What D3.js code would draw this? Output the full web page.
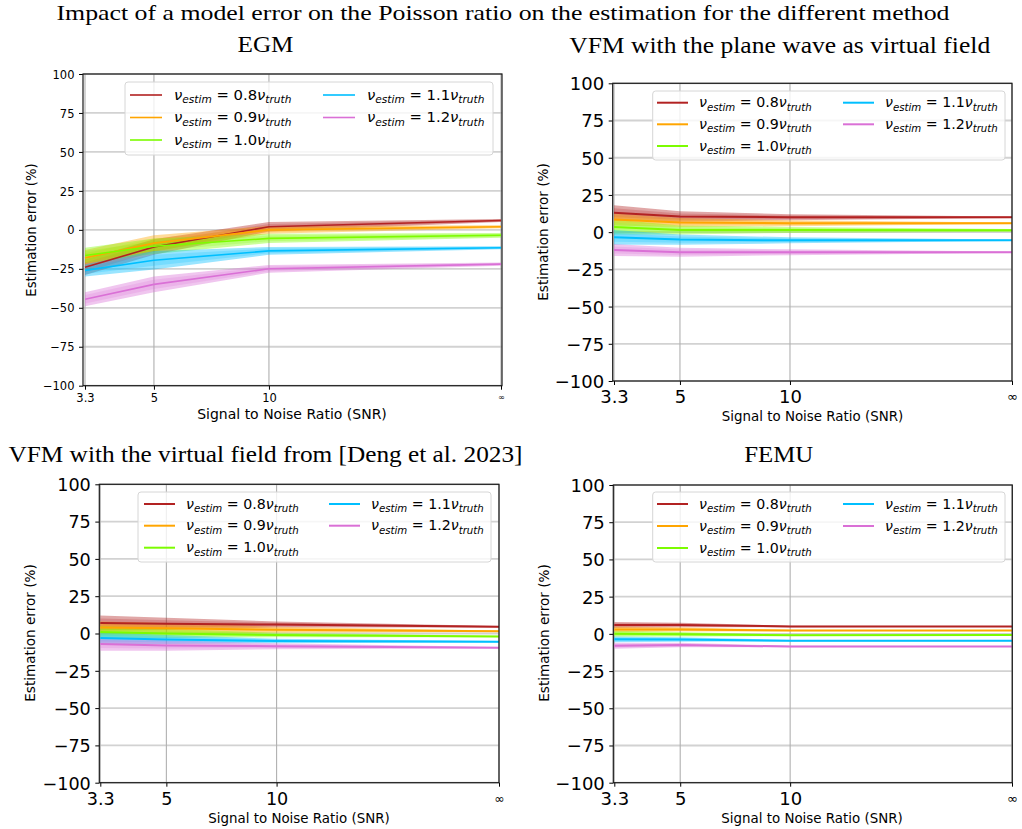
<!DOCTYPE html>
<html>
<head>
<meta charset="utf-8">
<script src="https://cdn.jsdelivr.net/npm/d3@7"></script>
<style>
  html, body { margin: 0; padding: 0; background: #fff; }
  svg { display: block; }
  .tick text { font-family: "DejaVu Sans", sans-serif; fill: #000; }
</style>
</head>
<body>
<svg id="chart" width="1022" height="829"></svg>
<script>
// ---- data -------------------------------------------------------------
// SNR levels; the "∞" case sits at a finite stand-in position on the log axis
const snrLabels = ["3.3", "5", "10", "∞"];
const snrPositions = [3.3, 5, 10, 40.5];
const yTicks = [-100, -75, -50, -25, 0, 25, 50, 75, 100];

// ν_estim / ν_truth ratios, one series each
const ratios = ["0.8", "0.9", "1.0", "1.1", "1.2"];
const seriesColors = ["firebrick", "orange", "lawngreen", "deepskyblue", "orchid"];

// mean estimation error (%) per ratio, at each SNR level
const egmMean = [
  [-24, -11, 2, 6],
  [-18, -8.5, 0, 2],
  [-16.5, -10.5, -5.5, -3.5],
  [-26, -19.5, -13.5, -11.5],
  [-44.5, -35, -25, -22]
];
// half-width of the scatter band (%)
const egmSpread = [
  [5, 5, 3, 1],
  [5, 5, 2.5, 1],
  [5, 5, 3, 1.5],
  [4, 6, 2.5, 1],
  [4.5, 5, 2.5, 1]
];

const vfmPlaneMean = [
  [13, 10.5, 10, 10],
  [8.5, 6.5, 6, 6],
  [3.5, 1.5, 1.5, 1.2],
  [-3.5, -5, -5.5, -5.5],
  [-12, -13.5, -13.5, -13.5]
];
const vfmPlaneSpread = [
  [5, 3.5, 2, 0.5],
  [4, 3, 2, 0.5],
  [5, 3, 2, 1],
  [5, 3.5, 2, 0.5],
  [4, 3, 2, 0.5]
];

const vfmDengMean = [
  [7, 6.5, 6, 4.5],
  [4, 3.5, 2.5, 1.5],
  [1, 0, -1, -2],
  [-3, -4, -5, -5.5],
  [-7, -8, -8.5, -9.5]
];
const vfmDengSpread = [
  [5, 4, 2, 0.5],
  [4, 3.5, 2, 0.5],
  [4, 3, 1.5, 0.5],
  [4, 3, 1.5, 0.5],
  [4.5, 3.5, 2, 0.5]
];

const femuMean = [
  [6, 6, 5, 5],
  [3, 3, 2.2, 2.2],
  [0, -0.2, -1, -0.8],
  [-3.7, -3.8, -4.6, -4.6],
  [-8, -7.5, -8.5, -8.5]
];
const femuSpread = [
  [2, 1.5, 0.5, 0.3],
  [2, 1.5, 0.5, 0.3],
  [2, 1.5, 0.5, 0.3],
  [2, 1.5, 0.5, 0.3],
  [2, 1.5, 0.5, 0.3]
];

const mainTitle = "Impact of a model error on the Poisson ratio on the estimation for the different method";
const xLabel = "Signal to Noise Ratio (SNR)";
const yLabel = "Estimation error (%)";

// ---- layout -------------------------------------------------------------
const panels = [
  {
    title: "EGM", mean: egmMean, spread: egmSpread,
    frame: { l: 83, r: 502, t: 74, b: 385.7 }, x0: 85, x1: 501,
    titleX: 265.5, titleY: 52, titleW: 56,
    tickFont: 11.5, xTickY: 16, lineW: 1.6,
    yLab: { x: 35.5, y: 230, size: 13.2 }, xLab: { x: 292, y: 419, size: 14 },
    legend: { x0: 125, y0: 82, x1: 493, y1: 155, rows: [95, 117.5, 140], c1: 130, c2: 323, lineLen: 32, textOff: 44, size: 14.8, sub: 10.6 }
  },
  {
    title: "VFM with the plane wave as virtual field", mean: vfmPlaneMean, spread: vfmPlaneSpread,
    frame: { l: 612.7, r: 1012, t: 83.3, b: 381 }, x0: 614, x1: 1012,
    titleX: 779.7, titleY: 52.5, titleW: 421,
    tickFont: 18, xTickY: 21.7, lineW: 2,
    yLab: { x: 548, y: 232, size: 13.6 }, xLab: { x: 812.5, y: 421, size: 13.4 },
    legend: { x0: 652.7, y0: 91, x1: 1005, y1: 160, rows: [102.7, 124.3, 146], c1: 657, c2: 843, lineLen: 31, textOff: 42, size: 14.2, sub: 10.2 }
  },
  {
    title: "VFM with the virtual field from [Deng et al. 2023]", mean: vfmDengMean, spread: vfmDengSpread,
    frame: { l: 99.3, r: 499, t: 484.3, b: 782.7 }, x0: 100.3, x1: 499,
    titleX: 265.5, titleY: 461.5, titleW: 514,
    tickFont: 17.6, xTickY: 22.3, lineW: 2,
    yLab: { x: 35, y: 633, size: 13.6 }, xLab: { x: 299, y: 823, size: 13.4 },
    legend: { x0: 138, y0: 492, x1: 491, y1: 562, rows: [504, 525.7, 547.7], c1: 144, c2: 329, lineLen: 31, textOff: 42, size: 14.2, sub: 10.2 }
  },
  {
    title: "FEMU", mean: femuMean, spread: femuSpread,
    frame: { l: 613.3, r: 1012.3, t: 485, b: 782.7 }, x0: 614.3, x1: 1012,
    titleX: 778.8, titleY: 461.5, titleW: 69,
    tickFont: 18, xTickY: 22.3, lineW: 2,
    yLab: { x: 549, y: 633, size: 13.6 }, xLab: { x: 812, y: 823, size: 13.4 },
    legend: { x0: 652.7, y0: 492, x1: 1005, y1: 562, rows: [504, 526, 548], c1: 657, c2: 843, lineLen: 31, textOff: 42, size: 14.2, sub: 10.2 }
  }
];

const svg = d3.select("#chart");
const serif = "'Liberation Serif', 'Times New Roman', serif";
const sans = "'DejaVu Sans', sans-serif";

svg.append("text")
  .attr("x", 503).attr("y", 20)
  .attr("text-anchor", "middle")
  .attr("font-family", serif).attr("font-size", 22)
  .attr("textLength", 893).attr("lengthAdjust", "spacingAndGlyphs")
  .text(mainTitle);

panels.forEach((p, pi) => {
  const f = p.frame;
  const g = svg.append("g");

  const x = d3.scaleLog().domain([snrPositions[0], snrPositions[snrPositions.length - 1]]).range([p.x0, p.x1]);
  const y = d3.scaleLinear().domain([-100, 100]).range([f.b, f.t]);

  // panel title
  g.append("text")
    .attr("x", p.titleX).attr("y", p.titleY)
    .attr("text-anchor", "middle")
    .attr("font-family", serif).attr("font-size", 23)
    .attr("textLength", p.titleW).attr("lengthAdjust", "spacingAndGlyphs")
    .text(p.title);

  // grid
  const clipId = "clip" + pi;
  svg.append("clipPath").attr("id", clipId)
    .append("rect").attr("x", f.l).attr("y", f.t).attr("width", f.r - f.l).attr("height", f.b - f.t);

  g.append("g").selectAll("line").data(yTicks).join("line")
    .attr("x1", f.l).attr("x2", f.r)
    .attr("y1", d => y(d)).attr("y2", d => y(d))
    .attr("stroke", "#d2d2d2").attr("stroke-width", 1.8);
  g.append("g").selectAll("line").data(snrPositions).join("line")
    .attr("x1", d => x(d)).attr("x2", d => x(d))
    .attr("y1", f.t).attr("y2", f.b)
    .attr("stroke", "#b0b0b0").attr("stroke-width", 1.1);

  const plot = g.append("g").attr("clip-path", `url(#${clipId})`);

  // scatter bands (layered to give a soft edge)
  p.mean.forEach((m, si) => {
    const pts = m.map((v, i) => ({ x: snrPositions[i], v, s: p.spread[si][i] }));
    [1, 0.6].forEach((k, li) => {
      const area = d3.area()
        .x(d => x(d.x))
        .y0(d => y(d.v - d.s * k))
        .y1(d => y(d.v + d.s * k));
      plot.append("path").datum(pts)
        .attr("d", area)
        .attr("fill", seriesColors[si])
        .attr("opacity", li === 0 ? 0.4 : 0.22);
    });
  });

  // mean lines
  p.mean.forEach((m, si) => {
    const pts = m.map((v, i) => ({ x: snrPositions[i], v }));
    plot.append("path").datum(pts)
      .attr("d", d3.line().x(d => x(d.x)).y(d => y(d.v)))
      .attr("fill", "none")
      .attr("stroke", seriesColors[si])
      .attr("stroke-width", p.lineW);
  });

  // axes
  const yAxis = d3.axisLeft(y).tickValues(yTicks).tickSize(4).tickPadding(4)
    .tickFormat(d => d < 0 ? "\u2212" + Math.abs(d) : String(d));
  const ya = g.append("g").attr("transform", `translate(${f.l},0)`).call(yAxis);
  ya.select(".domain").remove();
  ya.selectAll(".tick line").attr("stroke", "#000").attr("stroke-width", 1);
  ya.selectAll(".tick text").attr("font-size", p.tickFont).attr("x", -8.5).attr("dy", "0.36em");

  const xAxis = d3.axisBottom(x).tickValues(snrPositions).tickSize(4)
    .tickFormat((d, i) => snrLabels[i]);
  const xa = g.append("g").attr("transform", `translate(0,${f.b})`).call(xAxis);
  xa.select(".domain").remove();
  xa.selectAll(".tick line").attr("stroke", "#000").attr("stroke-width", 1);
  xa.selectAll(".tick text")
    .attr("font-size", (d, i) => i === snrLabels.length - 1 ? p.tickFont * 0.72 : p.tickFont)
    .attr("y", (d, i) => i === snrLabels.length - 1 ? p.xTickY - p.tickFont * 0.12 : p.xTickY)
    .attr("dy", null);

  // frame
  g.append("rect")
    .attr("x", f.l).attr("y", f.t).attr("width", f.r - f.l).attr("height", f.b - f.t)
    .attr("fill", "none").attr("stroke", "#1a1a1a").attr("stroke-width", 1.2);

  // axis labels
  g.append("text")
    .attr("transform", `translate(${p.yLab.x},${p.yLab.y}) rotate(-90)`)
    .attr("text-anchor", "middle")
    .attr("font-family", sans).attr("font-size", p.yLab.size)
    .text(yLabel);
  g.append("text")
    .attr("x", p.xLab.x).attr("y", p.xLab.y)
    .attr("text-anchor", "middle")
    .attr("font-family", sans).attr("font-size", p.xLab.size)
    .text(xLabel);

  // legend
  const L = p.legend;
  const lg = g.append("g");
  lg.append("rect")
    .attr("x", L.x0).attr("y", L.y0).attr("width", L.x1 - L.x0).attr("height", L.y1 - L.y0)
    .attr("rx", 3).attr("fill", "#fff").attr("fill-opacity", 0.8)
    .attr("stroke", "#d6d6d6").attr("stroke-width", 1);

  ratios.forEach((r, si) => {
    const col = si < 3 ? 0 : 1;
    const row = si < 3 ? si : si - 3;
    const lx = col === 0 ? L.c1 : L.c2;
    const ly = L.rows[row];
    lg.append("line")
      .attr("x1", lx).attr("x2", lx + L.lineLen)
      .attr("y1", ly).attr("y2", ly)
      .attr("stroke", seriesColors[si]).attr("stroke-width", p.lineW);
    const t = lg.append("text")
      .attr("x", lx + L.textOff).attr("y", ly + L.size * 0.33)
      .attr("font-family", sans).attr("font-size", L.size).attr("fill", "#000");
    const sh = L.size * 0.22;
    t.append("tspan").attr("font-style", "italic").text("\u03bd");
    t.append("tspan").attr("font-style", "italic").attr("font-size", L.sub).attr("dy", sh).text("estim");
    t.append("tspan").attr("dy", -sh).text(" = " + r);
    t.append("tspan").attr("font-style", "italic").text("\u03bd");
    t.append("tspan").attr("font-style", "italic").attr("font-size", L.sub).attr("dy", sh).text("truth");
  });
});
</script>
</body>
</html>
